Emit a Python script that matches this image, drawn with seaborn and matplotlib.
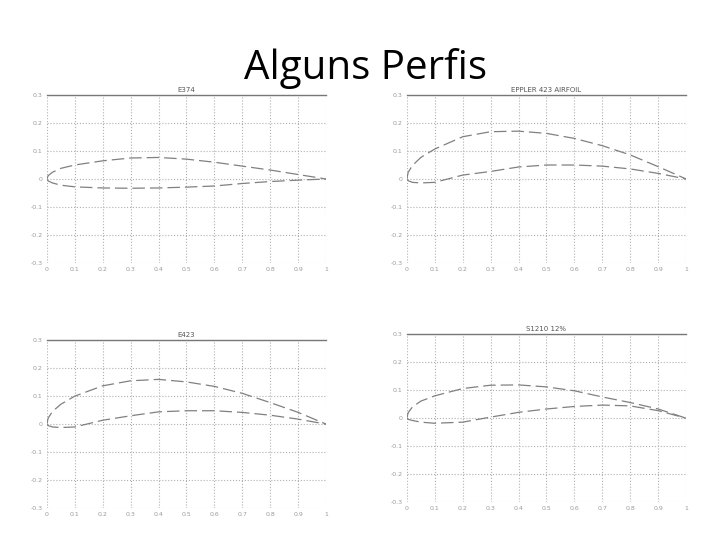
import matplotlib
matplotlib.use("Agg")
import matplotlib.pyplot as plt
import seaborn as sns
import pandas as pd

# coordenadas (x/c, y/c)
x_pts = [0.0, 0.005, 0.02, 0.05, 0.1, 0.2, 0.3, 0.4, 0.5, 0.6, 0.7, 0.8, 0.9, 1.0]

e374_upper = [0.0, 0.012, 0.024, 0.038, 0.050, 0.065, 0.075, 0.077, 0.071, 0.060, 0.046, 0.032, 0.016, 0.0]
e374_lower = [0.0, -0.007, -0.014, -0.022, -0.028, -0.032, -0.033, -0.032, -0.029, -0.025, -0.016, -0.009, -0.004, 0.0]

eppler_upper = [0.0, 0.024, 0.048, 0.077, 0.107, 0.151, 0.169, 0.171, 0.163, 0.145, 0.119, 0.086, 0.044, 0.0]
eppler_lower = [0.0, -0.006, -0.012, -0.014, -0.012, 0.014, 0.027, 0.043, 0.050, 0.050, 0.046, 0.036, 0.020, 0.0]

e423_upper = [0.0, 0.022, 0.045, 0.071, 0.100, 0.137, 0.155, 0.160, 0.151, 0.135, 0.110, 0.077, 0.042, 0.0]
e423_lower = [0.0, -0.005, -0.010, -0.012, -0.010, 0.014, 0.030, 0.044, 0.048, 0.048, 0.042, 0.032, 0.018, 0.0]

s1210_upper = [0.0, 0.020, 0.040, 0.061, 0.080, 0.106, 0.118, 0.119, 0.112, 0.098, 0.076, 0.056, 0.033, 0.0]
s1210_lower = [0.0, -0.004, -0.008, -0.014, -0.018, -0.014, 0.004, 0.021, 0.033, 0.042, 0.047, 0.044, 0.027, 0.0]

titles = ["E374", "EPPLER 423 AIRFOIL", "E423", "S1210 12%"]
x_ticks = [0, 0.1, 0.2, 0.3, 0.4, 0.5, 0.6, 0.7, 0.8, 0.9, 1]
x_labels = ["0", "0.1", "0.2", "0.3", "0.4", "0.5", "0.6", "0.7", "0.8", "0.9", "1"]
y_ticks = [-0.3, -0.2, -0.1, 0, 0.1, 0.2, 0.3]
y_labels = ["-0.3", "-0.2", "-0.1", "0", "0.1", "0.2", "0.3"]

perfis = [
    (e374_upper, e374_lower),
    (eppler_upper, eppler_lower),
    (e423_upper, e423_lower),
    (s1210_upper, s1210_lower),
]

# posições dos eixos (fração da figura)
boxes = [
    [0.065, 0.513, 0.388, 0.311],
    [0.565, 0.513, 0.388, 0.311],
    [0.065, 0.059, 0.388, 0.311],
    [0.565, 0.070, 0.388, 0.311],
]

sns.set_style("white")
plt.rcParams['font.family'] = ['DejaVu Sans']

fig = plt.figure(figsize=(7.2, 5.4), dpi=100)
fig.text(0.507, 0.874, "Alguns Perfis", ha="center", va="center",
         fontsize=29, family=["Open Sans", "DejaVu Sans"], color="black")

for (upper, lower), title, box in zip(perfis, titles, boxes):
    ax = fig.add_axes(box)
    df = pd.DataFrame({"x": x_pts + x_pts,
                       "y": upper + lower,
                       "surf": ["upper"] * len(x_pts) + ["lower"] * len(x_pts)})
    for surf in ["upper", "lower"]:
        sub = df[df["surf"] == surf]
        sns.lineplot(data=sub, x="x", y="y", ax=ax, sort=False,
                     color="#808080", linewidth=0.9)
        ax.lines[-1].set_dashes([10, 4])
    ax.set_xlim(0, 1)
    ax.set_ylim(-0.3, 0.3)
    ax.set_xticks(x_ticks)
    ax.set_xticklabels(x_labels)
    ax.set_yticks(y_ticks)
    ax.set_yticklabels(y_labels)
    ax.set_xlabel("")
    ax.set_ylabel("")
    ax.grid(True, linestyle=":", color="#b0b0b0", linewidth=0.8)
    for side in ["left", "right", "bottom"]:
        ax.spines[side].set_visible(False)
    ax.spines["top"].set_color("#777777")
    ax.spines["top"].set_linewidth(1.0)
    ax.tick_params(axis="both", labelsize=4.5, labelcolor="#9a9a9a", length=0, pad=3)
    ax.set_title(title, fontsize=5, color="#555555", pad=2)

fig.savefig("out.png", dpi=100)
